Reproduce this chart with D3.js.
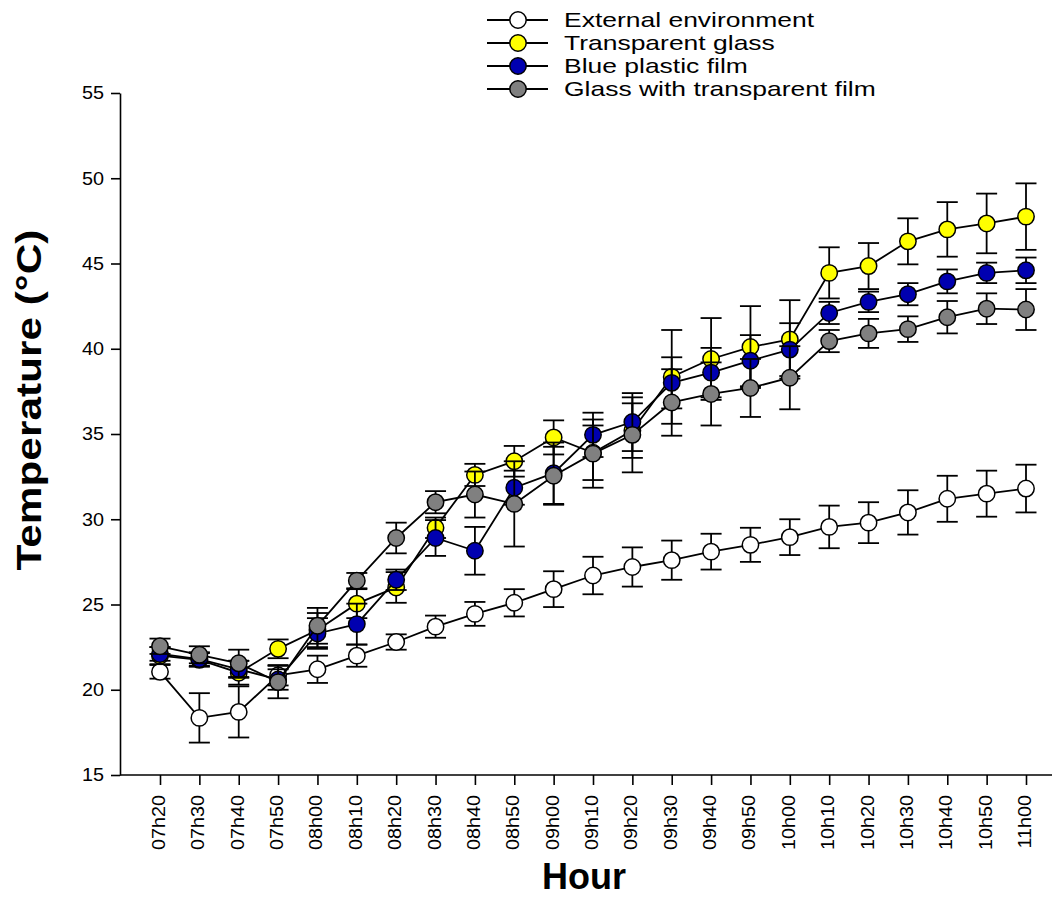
<!DOCTYPE html>
<html>
<head>
<meta charset="utf-8">
<script src="https://cdn.jsdelivr.net/npm/d3@7"></script>
<style>
  html, body { margin: 0; padding: 0; background: #fff; }
  svg { display: block; font-family: "Liberation Sans", Arial, sans-serif; }
</style>
</head>
<body>
<svg id="chart" width="1056" height="913"></svg>
<script>
// Sampling times
const hours = ["07h20","07h30","07h40","07h50","08h00","08h10","08h20","08h30","08h40","08h50",
  "09h00","09h10","09h20","09h30","09h40","09h50","10h00","10h10","10h20","10h30","10h40","10h50","11h00"];

// Mean temperature (°C) and error per series
const externalMean = [21.05,18.35,18.7,20.85,21.2,22.0,22.8,23.7,24.45,25.1,25.9,26.7,27.2,27.6,28.1,28.5,28.95,29.55,29.8,30.4,31.2,31.5,31.8];
const externalErr  = [0.4,1.45,1.5,0.6,0.8,0.65,0.45,0.65,0.7,0.8,1.05,1.1,1.15,1.15,1.05,1.0,1.05,1.25,1.2,1.3,1.35,1.35,1.4];

const glassMean = [22.0,21.75,21.0,22.4,23.5,25.05,26.0,29.5,32.6,33.4,34.8,33.9,35.2,38.35,39.4,40.1,40.55,44.45,44.85,46.3,47.0,47.35,47.75];
const glassErr  = [0.5,0.4,0.7,0.55,1.0,0.85,0.9,0.6,0.65,0.9,1.0,1.6,1.6,2.75,2.4,2.4,2.3,1.5,1.35,1.35,1.6,1.75,1.95];

const blueMean = [22.1,21.8,21.2,20.6,23.3,23.85,26.45,28.9,28.15,31.85,32.7,34.95,35.7,38.0,38.6,39.3,39.95,42.1,42.75,43.2,43.95,44.45,44.6];
const blueErr  = [0.4,0.4,0.5,0.6,0.9,1.2,0.6,1.05,1.4,1.0,1.8,1.3,1.7,1.5,1.45,1.5,1.55,0.65,0.6,0.65,0.7,0.6,0.75];

const filmMean = [22.55,22.05,21.55,20.45,23.75,26.4,28.9,31.0,31.45,30.9,32.55,33.85,34.95,36.85,37.35,37.7,38.3,40.45,40.9,41.15,41.85,42.35,42.3];
const filmErr  = [0.45,0.5,0.8,0.95,1.05,0.45,0.9,0.65,1.35,2.5,1.7,2.0,2.2,1.95,1.85,1.7,1.85,0.65,0.85,0.75,0.95,0.9,1.2];

const yTicks = [15,20,25,30,35,40,45,50,55];

const seriesNames  = ["External environment","Transparent glass","Blue plastic film","Glass with transparent film"];
const seriesFill   = ["#ffffff","#ffff00","#0000b0","#808080"];
const seriesMeans  = [externalMean, glassMean, blueMean, filmMean];
const seriesErrs   = [externalErr, glassErr, blueErr, filmErr];

const FONT = "'Liberation Sans', Arial, sans-serif";

const svg = d3.select("#chart");
svg.append("rect").attr("width",1056).attr("height",913).attr("fill","#fff");

const x = d3.scalePoint().domain(hours).range([160, 1026]);
const y = d3.scaleLinear().domain([15, 55]).range([775, 93]);

const markerR = 8.2, capHalf = 10.5, lw = 1.8;

// stretch a text element along its own baseline
function widen(sel, k) {
  sel.each(function() {
    const w = this.getComputedTextLength();
    d3.select(this).attr("textLength", w * k).attr("lengthAdjust", "spacingAndGlyphs");
  });
}

// Axes
const yAxis = svg.append("g").attr("transform","translate(120,0)")
  .call(d3.axisLeft(y).tickValues(yTicks).tickSize(9).tickPadding(7).tickSizeOuter(0));
yAxis.attr("font-size", null).attr("font-family", null);
yAxis.select(".domain").attr("stroke","#000").attr("stroke-width",1.6);
yAxis.selectAll(".tick line").attr("stroke","#000").attr("stroke-width",1.6);
yAxis.selectAll(".tick text").style("font-size","18px").style("font-family",FONT).attr("fill","#000")
  .call(widen, 1.1);

const xAxis = svg.append("g").attr("transform","translate(0,775)")
  .call(d3.axisBottom(x).tickSize(10).tickSizeOuter(0));
xAxis.attr("font-size", null).attr("font-family", null);
xAxis.select(".domain").attr("d","M120,0H1052").attr("stroke","#000").attr("stroke-width",1.6);
xAxis.selectAll(".tick line").attr("stroke","#000").attr("stroke-width",1.6);
xAxis.selectAll(".tick text")
  .style("font-size","18px").style("font-family",FONT).attr("fill","#000")
  .attr("text-anchor","end")
  .attr("transform","rotate(-90)")
  .attr("x",-20).attr("y",-2).attr("dy","0.36em")
  .call(widen, 1.1);

// Axis titles
svg.append("text").attr("x",584).attr("y",889).attr("text-anchor","middle")
  .style("font-weight","bold").style("font-size","36px").attr("fill","#000").text("Hour");
svg.append("text").attr("transform","translate(41,400) rotate(-90)").attr("text-anchor","middle")
  .style("font-weight","bold").style("font-size","35px").attr("fill","#000").text("Temperature (°C)")
  .call(widen, 1.21);

// Series: error bars, connecting line, then symbols
const line = d3.line().x((d,i) => x(hours[i])).y(d => y(d));
seriesMeans.forEach((means, s) => {
  const errs = seriesErrs[s];
  const g = svg.append("g");
  const eb = g.append("g").selectAll("g").data(means).join("g")
    .attr("stroke","#000").attr("stroke-width",lw);
  eb.append("line")
    .attr("x1",(d,i)=>x(hours[i])).attr("x2",(d,i)=>x(hours[i]))
    .attr("y1",(d,i)=>y(d+errs[i])).attr("y2",(d,i)=>y(d-errs[i]));
  eb.append("line")
    .attr("x1",(d,i)=>x(hours[i])-capHalf).attr("x2",(d,i)=>x(hours[i])+capHalf)
    .attr("y1",(d,i)=>y(d+errs[i])).attr("y2",(d,i)=>y(d+errs[i]));
  eb.append("line")
    .attr("x1",(d,i)=>x(hours[i])-capHalf).attr("x2",(d,i)=>x(hours[i])+capHalf)
    .attr("y1",(d,i)=>y(d-errs[i])).attr("y2",(d,i)=>y(d-errs[i]));
  g.append("path").datum(means).attr("d",line)
    .attr("fill","none").attr("stroke","#000").attr("stroke-width",lw);
  g.append("g").selectAll("circle").data(means).join("circle")
    .attr("cx",(d,i)=>x(hours[i])).attr("cy",d=>y(d)).attr("r",markerR)
    .attr("fill",seriesFill[s]).attr("stroke","#000").attr("stroke-width",1.5);
});

// Legend
const legendY = [20, 43, 66, 89];
const lg = svg.append("g");
seriesNames.forEach((name, s) => {
  const row = lg.append("g").attr("transform",`translate(0,${legendY[s]})`);
  row.append("line").attr("x1",487).attr("x2",548).attr("y1",0).attr("y2",0)
    .attr("stroke","#000").attr("stroke-width",lw);
  row.append("circle").attr("cx",518).attr("cy",0).attr("r",8.2)
    .attr("fill",seriesFill[s]).attr("stroke","#000").attr("stroke-width",1.5);
  row.append("text").attr("x",564).attr("y",0).attr("dy","0.35em")
    .style("font-size","21px").attr("fill","#000").text(name)
    .call(widen, 1.26);
});
</script>
</body>
</html>
